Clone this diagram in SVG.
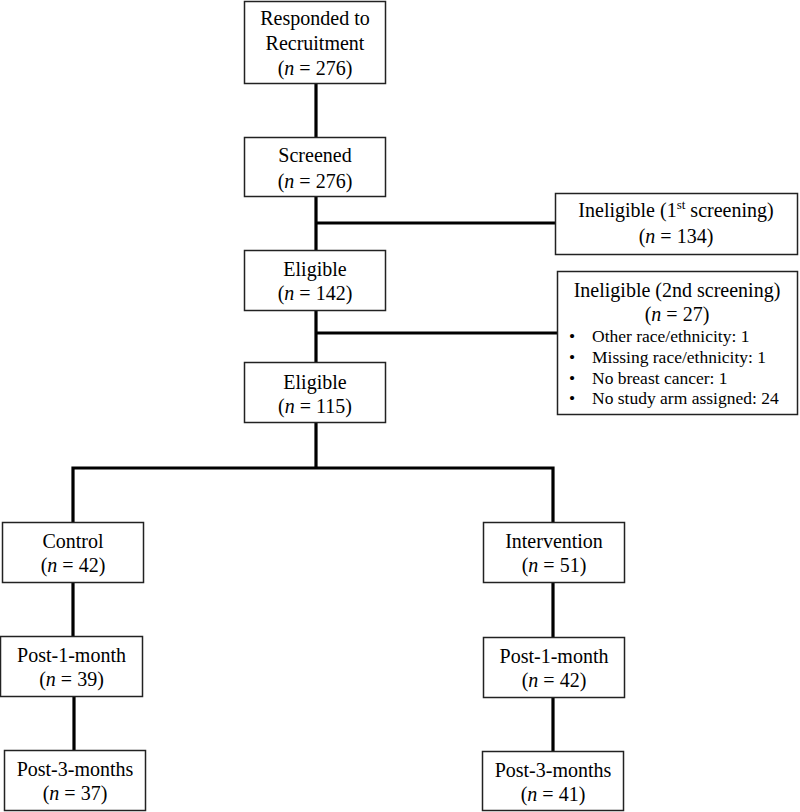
<svg xmlns="http://www.w3.org/2000/svg" width="800" height="812" viewBox="0 0 800 812">
<style>
.box{fill:#fff;stroke:#222;stroke-width:1.5}
.c{stroke:#000;stroke-width:3.2;fill:none;stroke-linecap:square}
text{font-family:"Liberation Serif","Times New Roman",serif;font-size:20px;fill:#000}
.m{text-anchor:middle}
.b{font-size:17.5px}
</style>
<rect width="800" height="812" fill="#fff"/>
<g id="connectors">
<path class="c" d="M316 84V137M316 197V250M316 311V362M316 423V468M316 223H555M316 333H557M73 468H553M73 468V522M553 468V522M73 583V636M74 697V750M553 583V637M553 698V751"/>
</g>
<g id="n1"><rect class="box" x="244.5" y="1.5" width="141" height="82"/>
<text class="m" x="315" y="25">Responded to</text><text class="m" x="315" y="50">Recruitment</text><text class="m" x="315" y="75">(<tspan font-style="italic">n</tspan> = 276)</text></g>
<g id="n2"><rect class="box" x="244.5" y="137.5" width="141" height="59"/>
<text class="m" x="315" y="162">Screened</text><text class="m" x="315" y="188">(<tspan font-style="italic">n</tspan> = 276)</text></g>
<g id="n3"><rect class="box" x="555.5" y="193.5" width="242" height="61"/>
<text class="m" x="676" y="217">Ineligible (1<tspan font-size="13" dy="-8">st</tspan><tspan dy="8"> screening)</tspan></text><text class="m" x="676" y="243">(<tspan font-style="italic">n</tspan> = 134)</text></g>
<g id="n4"><rect class="box" x="244.5" y="250.5" width="141" height="60"/>
<text class="m" x="315" y="276">Eligible</text><text class="m" x="315" y="300">(<tspan font-style="italic">n</tspan> = 142)</text></g>
<g id="n5"><rect class="box" x="557.5" y="271.5" width="240" height="143"/>
<text class="m" x="677" y="297">Ineligible (2nd screening)</text><text class="m" x="677" y="321">(<tspan font-style="italic">n</tspan> = 27)</text>
<text class="b" x="569" y="342">•</text><text class="b" x="592" y="342">Other race/ethnicity: 1</text>
<text class="b" x="569" y="363">•</text><text class="b" x="592" y="363">Missing race/ethnicity: 1</text>
<text class="b" x="569" y="384">•</text><text class="b" x="592" y="384">No breast cancer: 1</text>
<text class="b" x="569" y="404">•</text><text class="b" x="592" y="404">No study arm assigned: 24</text></g>
<g id="n6"><rect class="box" x="244.5" y="362.5" width="141" height="60"/>
<text class="m" x="315" y="389">Eligible</text><text class="m" x="315" y="413">(<tspan font-style="italic">n</tspan> = 115)</text></g>
<g id="n7"><rect class="box" x="2.5" y="522.5" width="141" height="60"/>
<text class="m" x="73" y="548">Control</text><text class="m" x="73" y="572">(<tspan font-style="italic">n</tspan> = 42)</text></g>
<g id="n8"><rect class="box" x="483.5" y="522.5" width="141" height="60"/>
<text class="m" x="554" y="548">Intervention</text><text class="m" x="554" y="572">(<tspan font-style="italic">n</tspan> = 51)</text></g>
<g id="n9"><rect class="box" x="0.5" y="636.5" width="142" height="60"/>
<text class="m" x="71.5" y="662">Post-1-month</text><text class="m" x="71.5" y="686">(<tspan font-style="italic">n</tspan> = 39)</text></g>
<g id="n10"><rect class="box" x="483.5" y="637.5" width="141" height="60"/>
<text class="m" x="554" y="663">Post-1-month</text><text class="m" x="554" y="687">(<tspan font-style="italic">n</tspan> = 42)</text></g>
<g id="n11"><rect class="box" x="4.5" y="750.5" width="141" height="60"/>
<text class="m" x="75" y="776">Post-3-months</text><text class="m" x="75" y="800">(<tspan font-style="italic">n</tspan> = 37)</text></g>
<g id="n12"><rect class="box" x="482.5" y="751.5" width="141" height="59"/>
<text class="m" x="553" y="777">Post-3-months</text><text class="m" x="553" y="801">(<tspan font-style="italic">n</tspan> = 41)</text></g>
</svg>
